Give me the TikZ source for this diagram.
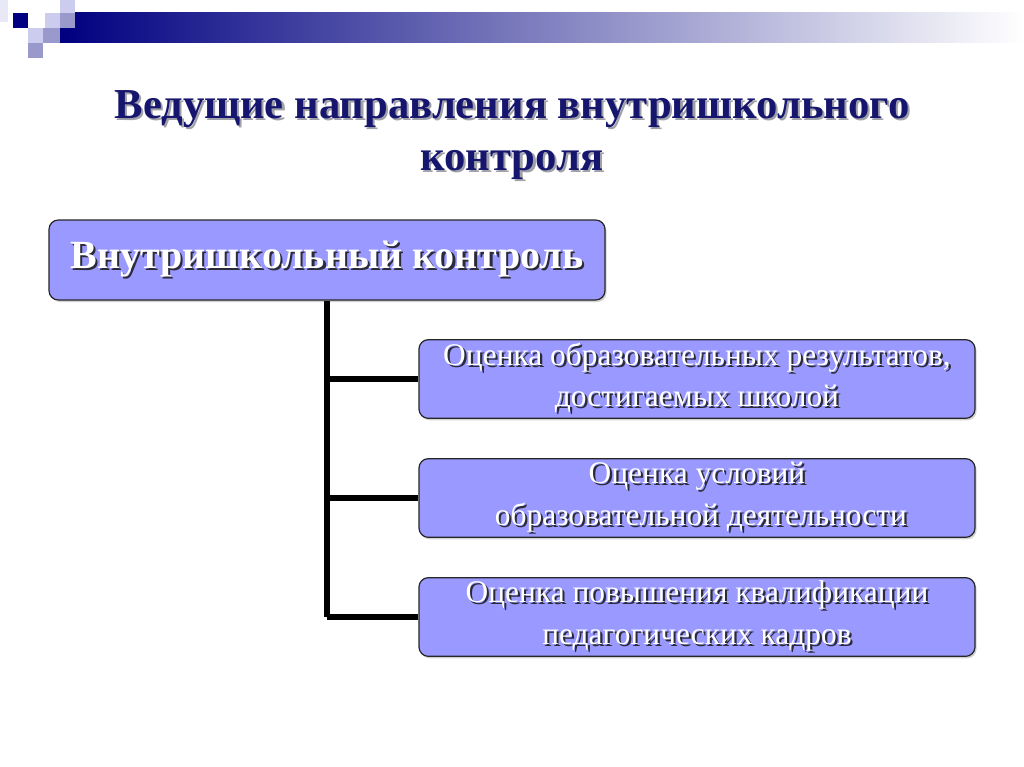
\documentclass[tikz,border=0pt]{standalone}
\usepackage{fontspec}
\setmainfont{Liberation Serif}
\usetikzlibrary{shadows}
\definecolor{boxfill}{HTML}{9999FF}
\definecolor{navy}{HTML}{000080}
\definecolor{barmid}{HTML}{A6A6BC}
\definecolor{titlec}{HTML}{16166E}
\definecolor{tshadow}{HTML}{A0A0A8}
\definecolor{bshadow}{HTML}{2A2A38}
\definecolor{lav1}{HTML}{CCCCEE}
\definecolor{lav2}{HTML}{9999CC}
\newcommand\shtxt[2]{\leavevmode\rlap{\kern1.6pt\raisebox{-1.6pt}{\textcolor{#1}{#2}}}#2}
\begin{document}
\begin{tikzpicture}[x=0.75pt,y=-0.75pt,
  box/.style={draw=black!85, line width=0.9pt, fill=boxfill, rounded corners=7pt,
    minimum width=417pt, inner sep=0pt, align=center, text=white,
    drop shadow={shadow xshift=1.2pt, shadow yshift=-1.5pt, opacity=0.35}},
  conn/.style={line width=3.8pt, black}]
\useasboundingbox (0,0) rectangle (1024,767);
\fill[white] (0,0) rectangle (1024,767);
% header bar
\shade[left color=navy, middle color=barmid, right color=white] (60,13) rectangle (1024,43);
\fill[lav1!45] (0,0) rectangle (8,22);
\fill[navy] (13,13) rectangle (28,28);
\fill[lav1] (45,13) rectangle (60,28);
\fill[lav1] (60,0) rectangle (75,13);
\fill[lav2] (60,13) rectangle (75,28);
\fill[lav1] (28,28) rectangle (43,43);
\fill[lav2] (43,28) rectangle (60,43);
\fill[lav2] (28,43) rectangle (43,58);
% title
\node[font=\bfseries\fontsize{32}{39}\selectfont, text=titlec, align=center] (title) at (512,136)
  {\shtxt{tshadow}{Ведущие направления внутришкольного}\\\shtxt{tshadow}{контроля}};
% boxes
\node[box, minimum height=60pt, font=\bfseries\fontsize{30}{36}\selectfont] (main) at (327,260)
  {\shtxt{bshadow}{Внутришкольный контроль}};
\node[box, minimum height=59pt, font=\fontsize{23.6}{31}\selectfont] (b1) at (697,379)
  {\shtxt{bshadow}{Оценка образовательных результатов,}\\\shtxt{bshadow}{достигаемых школой}};
\node[box, minimum height=59pt, font=\fontsize{23.6}{31}\selectfont] (b2) at (697,498)
  {\shtxt{bshadow}{Оценка условий}\\\shtxt{bshadow}{\ образовательной деятельности}};
\node[box, minimum height=59pt, font=\fontsize{23.6}{31}\selectfont] (b3) at (697,617)
  {\shtxt{bshadow}{Оценка повышения квалификации}\\\shtxt{bshadow}{педагогических кадров}};
% connectors
\coordinate (j3) at (327,617);
\draw[conn] (main.south) -- (j3);
\draw[conn] (b1.west) -- (b1.west -| main.south);
\draw[conn] (b2.west) -- (b2.west -| main.south);
\draw[conn] (b3.west) -- (j3);
\end{tikzpicture}
\end{document}
